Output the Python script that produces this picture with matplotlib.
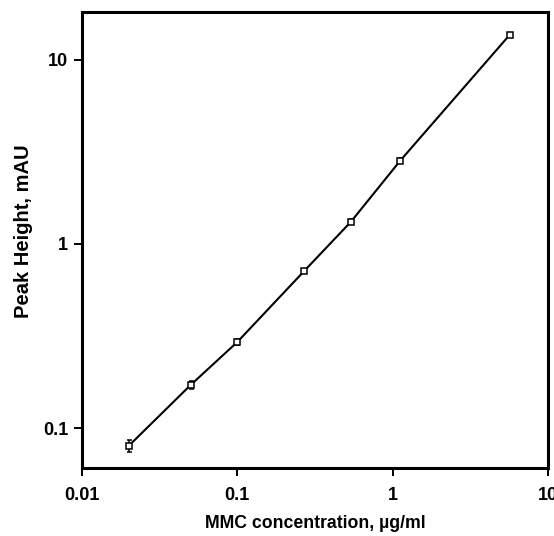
import matplotlib.pyplot as plt
from matplotlib.ticker import FixedLocator, FixedFormatter, NullLocator

# MMC calibration data
conc = [0.02, 0.05, 0.1, 0.27, 0.54, 1.12, 5.7]
peak = [0.080, 0.171, 0.293, 0.713, 1.32, 2.83, 13.7]
peak_err = [0.006, 0.008, 0.01, 0.02, 0.04, 0.08, 0.2]

xticks = [0.01, 0.1, 1, 10]
xticklabels = ["0.01", "0.1", "1", "10"]
yticks = [0.1, 1, 10]
yticklabels = ["0.1", "1", "10"]

plt.rcParams["font.family"] = ["Liberation Sans", "DejaVu Sans"]

fig = plt.figure(figsize=(5.54, 5.36), dpi=100)
ax = fig.add_axes([0.148, 0.127, 0.841, 0.851])

ax.plot(conc, peak, color="black", lw=1.5, zorder=2)
ax.errorbar(conc, peak, yerr=peak_err, fmt="s", ms=3.8, mfc="white",
            mec="black", mew=1.1, ecolor="black", elinewidth=1.1,
            capsize=1.8, zorder=3)

ax.set_xscale("log")
ax.set_yscale("log")
ax.set_xlim(0.01, 10)
ax.set_ylim(0.0607, 18.2)

ax.xaxis.set_major_locator(FixedLocator(xticks))
ax.xaxis.set_major_formatter(FixedFormatter(xticklabels))
ax.yaxis.set_major_locator(FixedLocator(yticks))
ax.yaxis.set_major_formatter(FixedFormatter(yticklabels))
ax.xaxis.set_minor_locator(NullLocator())
ax.yaxis.set_minor_locator(NullLocator())

ax.tick_params(direction="out", length=6, width=1.4, labelsize=13)
ax.tick_params(axis="x", pad=8)
ax.tick_params(axis="y", pad=4)
for lab in ax.get_xticklabels() + ax.get_yticklabels():
    lab.set_fontweight("bold")
for s in ax.spines.values():
    s.set_linewidth(2.2)

ax.set_xlabel("MMC concentration, µg/ml", fontsize=12.7, fontweight="bold")
ax.set_ylabel("Peak Height, mAU", fontsize=14.5, fontweight="bold")
ax.xaxis.set_label_coords(0.5, -0.103)
ax.yaxis.set_label_coords(-0.105, 0.52)

fig.savefig("out.png", dpi=100)
